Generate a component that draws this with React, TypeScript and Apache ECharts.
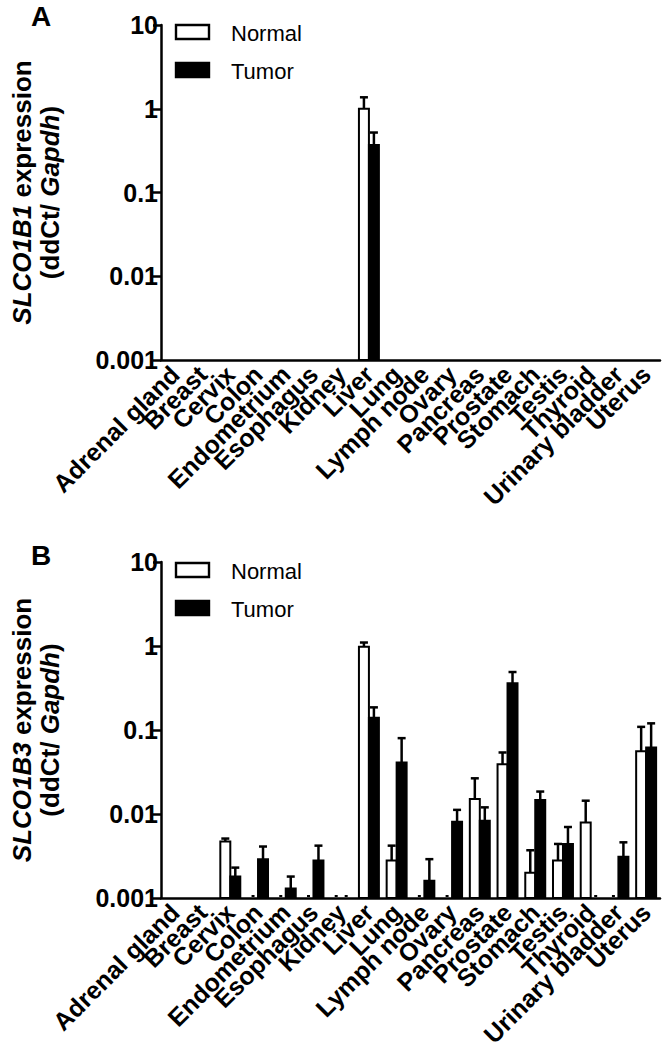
import React, { useEffect, useRef } from "react";
import * as echarts from "echarts";

const categories = [
  "Adrenal gland", "Breast", "Cervix", "Colon", "Endometrium", "Esophagus",
  "Kidney", "Liver", "Lung", "Lymph node", "Ovary", "Pancreas", "Prostate",
  "Stomach", "Testis", "Thyroid", "Urinary bladder", "Uterus",
];
const yTickLabels = ["0.001", "0.01", "0.1", "1", "10"];

// Panel A: SLCO1B1 (mean, and mean + SEM for the error bar top); null = no bar
const aNormal = [null, null, null, null, null, null, null, 1.0, null, null, null, null, null, null, null, null, null, null];
const aNormalErr = [null, null, null, null, null, null, null, 1.37, null, null, null, null, null, null, null, null, null, null];
const aTumor = [null, null, null, null, null, null, null, 0.37, null, null, null, null, null, null, null, null, null, null];
const aTumorErr = [null, null, null, null, null, null, null, 0.52, null, null, null, null, null, null, null, null, null, null];

// Panel B: SLCO1B3; 0 = measured but undetected (tiny mark on the baseline)
const bNormal = [null, null, 0.0047, 0, 0, 0, 0, 0.98, 0.0028, 0, 0, 0.0151, 0.039, 0.002, 0.0028, 0.0079, 0, 0.056];
const bNormalErr = [null, null, 0.0051, null, null, null, null, 1.1, 0.0042, null, null, 0.0266, 0.054, 0.0037, 0.0044, 0.0144, null, 0.109];
const bTumor = [null, null, 0.0018, 0.0029, 0.0013, 0.0028, 0, 0.14, 0.041, 0.0016, 0.0081, 0.0083, 0.36, 0.0147, 0.0044, 0, 0.0031, 0.062];
const bTumorErr = [null, null, 0.0023, 0.0041, 0.0018, 0.0042, null, 0.186, 0.08, 0.0029, 0.0112, 0.012, 0.49, 0.0185, 0.007, null, 0.0046, 0.12];

const FONT = "'Liberation Sans', Arial, Helvetica, sans-serif";
const AXIS_MIN = 0.001;

function toData(vals: (number | null)[], errs: (number | null)[]) {
  const out: number[][] = [];
  vals.forEach((v, i) => {
    if (v == null) return;
    if (v <= 0) out.push([i, AXIS_MIN, AXIS_MIN, 1]);
    else out.push([i, v, errs[i] ?? v, 0]);
  });
  return out;
}

function barSeries(name: string, vals: (number | null)[], errs: (number | null)[], left: boolean, idx: number) {
  return {
    type: "custom",
    name,
    xAxisIndex: idx,
    yAxisIndex: idx,
    clip: false,
    encode: { x: 0, y: [1, 2] },
    data: toData(vals, errs),
    renderItem: (params: any, api: any) => {
      const i = api.value(0);
      const v = api.value(1);
      const e = api.value(2);
      const zero = api.value(3) === 1;
      const top = api.coord([i, v]);
      const base = api.coord([i, AXIS_MIN]);
      const errTop = api.coord([i, e]);
      const band = api.size([1, 1])[0];
      const bw = band * 0.36;
      const x0 = left ? top[0] - bw : top[0];
      const cx = x0 + bw / 2;
      if (zero) {
        return {
          type: "rect",
          shape: { x: cx - 1.5, y: base[1] - 3, width: 3, height: 2 },
          style: { fill: "#000" },
        };
      }
      return {
        type: "group",
        children: [
          {
            type: "line",
            shape: { x1: cx, y1: top[1], x2: cx, y2: errTop[1] },
            style: { stroke: "#000", lineWidth: 2.5 },
          },
          {
            type: "line",
            shape: { x1: cx - 4, y1: errTop[1], x2: cx + 4, y2: errTop[1] },
            style: { stroke: "#000", lineWidth: 2.5 },
          },
          {
            type: "rect",
            shape: { x: x0, y: top[1], width: bw, height: base[1] - top[1] },
            style: { fill: left ? "#fff" : "#000", stroke: "#000", lineWidth: 2 },
          },
        ],
      };
    },
  };
}

function legendGraphic(top: number) {
  return [
    {
      type: "rect",
      shape: { x: 176, y: top, width: 33, height: 14 },
      style: { fill: "#fff", stroke: "#000", lineWidth: 2.4 },
    },
    {
      type: "text",
      x: 231,
      y: top + 8,
      style: { text: "Normal", font: `22px ${FONT}`, fill: "#000", verticalAlign: "middle" },
    },
    {
      type: "rect",
      shape: { x: 176, y: top + 38, width: 33, height: 14 },
      style: { fill: "#000", stroke: "#000", lineWidth: 2.4 },
    },
    {
      type: "text",
      x: 231,
      y: top + 46,
      style: { text: "Tumor", font: `22px ${FONT}`, fill: "#000", verticalAlign: "middle" },
    },
  ];
}

function xAxisDef(idx: number) {
  return {
    type: "category",
    gridIndex: idx,
    data: categories,
    boundaryGap: true,
    axisLine: { lineStyle: { color: "#000", width: 2.5 } },
    axisTick: { alignWithLabel: true, length: 8, lineStyle: { color: "#000", width: 2.5 } },
    axisLabel: {
      interval: 0,
      rotate: 45,
      margin: 10,
      color: "#000",
      fontSize: 25,
      fontWeight: "bold",
      fontFamily: FONT,
    },
    splitLine: { show: false },
  };
}

function yAxisDef(idx: number, gene: string) {
  return {
    type: "log",
    gridIndex: idx,
    logBase: 10,
    min: 0.001,
    max: 10,
    axisLine: { show: true, lineStyle: { color: "#000", width: 2.5 } },
    axisTick: { show: true, length: 8, lineStyle: { color: "#000", width: 2.5 } },
    axisLabel: {
      margin: 3,
      color: "#000",
      fontSize: 25,
      fontWeight: "bold",
      fontFamily: FONT,
      formatter: (val: number) => {
        const k = Math.round(Math.log10(val)) + 3;
        return yTickLabels[k] ?? String(val);
      },
    },
    splitLine: { show: false },
    name: `{i|${gene}}{n| expression}\n{n|(ddCt/ }{i|Gapdh}{n|)}`,
    nameLocation: "middle",
    nameRotate: 90,
    nameGap: 97,
    nameTextStyle: {
      color: "#000",
      lineHeight: 28,
      rich: {
        i: { fontStyle: "italic", fontWeight: "bold", fontSize: 26, fontFamily: FONT, color: "#000", lineHeight: 28 },
        n: { fontWeight: "bold", fontSize: 26, fontFamily: FONT, color: "#000", lineHeight: 28 },
      },
    },
  };
}

export default function App() {
  const ref = useRef<HTMLDivElement>(null);
  useEffect(() => {
    if (!ref.current) return;
    const chart = echarts.init(ref.current, undefined, { renderer: "svg" });
    chart.setOption({
      animation: false,
      backgroundColor: "#fff",
      grid: [
        { left: 157, top: 25, width: 503, height: 335 },
        { left: 157, top: 562, width: 503, height: 336 },
      ],
      xAxis: [xAxisDef(0), xAxisDef(1)],
      yAxis: [yAxisDef(0, "SLCO1B1"), yAxisDef(1, "SLCO1B3")],
      series: [
        barSeries("Normal", aNormal, aNormalErr, true, 0),
        barSeries("Tumor", aTumor, aTumorErr, false, 0),
        barSeries("Normal", bNormal, bNormalErr, true, 1),
        barSeries("Tumor", bTumor, bTumorErr, false, 1),
      ],
      graphic: [
        {
          type: "text",
          x: 31,
          y: 2,
          style: { text: "A", font: `bold 28px ${FONT}`, fill: "#000" },
        },
        {
          type: "text",
          x: 31,
          y: 541,
          style: { text: "B", font: `bold 28px ${FONT}`, fill: "#000" },
        },
        ...legendGraphic(25),
        ...legendGraphic(563),
      ],
    });
    return () => chart.dispose();
  }, []);
  return (
    <div
      ref={ref}
      style={{ position: "absolute", left: 0, top: 0, width: 662, height: 1050, background: "#fff" }}
    />
  );
}
